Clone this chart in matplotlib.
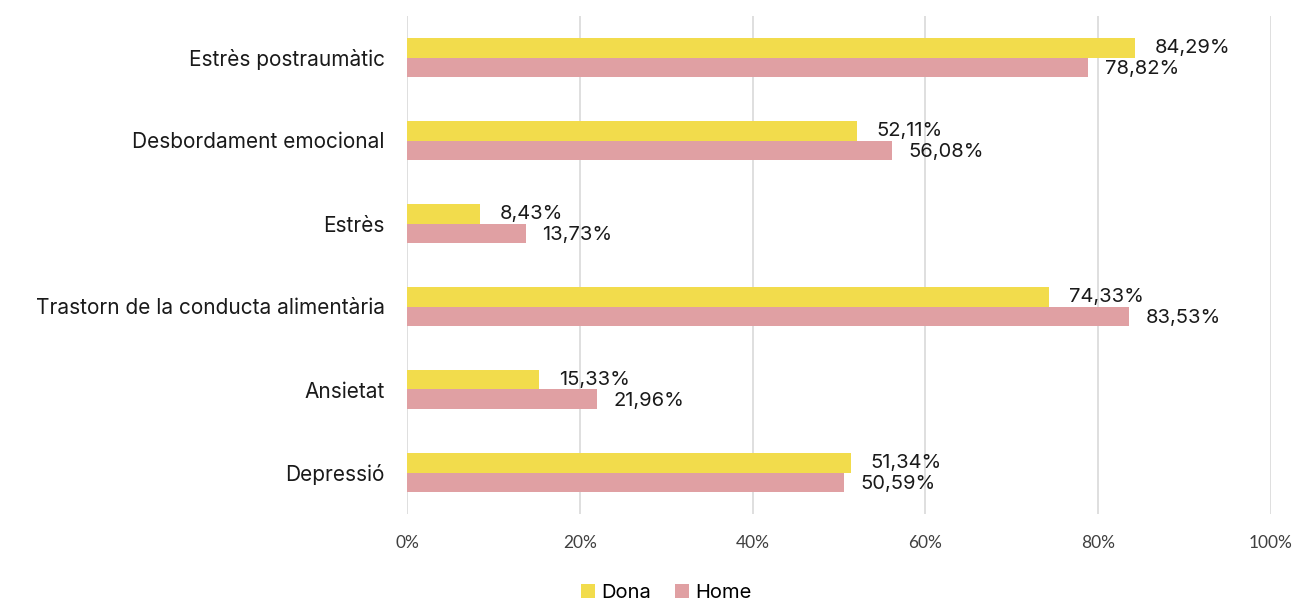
import numpy as np
import matplotlib.pyplot as plt

categories = ["Estrès postraumàtic", "Desbordament emocional", "Estrès",
              "Trastorn de la conducta alimentària", "Ansietat", "Depressió"]
dona = [84.29, 52.11, 8.43, 74.33, 15.33, 51.34]
home = [78.82, 56.08, 13.73, 83.53, 21.96, 50.59]
xticks = [0, 20, 40, 60, 80, 100]


def fmt(v):
    return f"{v:.2f}".replace(".", ",") + "%"


def plot_chart():
    plt.rcParams['font.family'] = ['Inter', 'DejaVu Sans']
    fig = plt.figure(figsize=(13.02, 6.05), dpi=100)
    ax = fig.add_axes([0.3126, 1 - 514 / 605, 0.6636, 498 / 605])

    y = np.arange(len(categories))
    h = 0.235
    ax.barh(y - h / 2, dona, height=h, color="#F2DC4C", label="Dona", zorder=3)
    ax.barh(y + h / 2, home, height=h, color="#E0A0A3", label="Home", zorder=3)

    for i in range(len(categories)):
        ax.annotate(fmt(dona[i]), (dona[i], y[i] - h / 2), xytext=(14, 0),
                    textcoords="offset points", fontsize=14.5, va="center", ha="left",
                    color="#1a1a1a")
        ax.annotate(fmt(home[i]), (home[i], y[i] + h / 2), xytext=(12, -1.5),
                    textcoords="offset points", fontsize=14.5, va="center", ha="left",
                    color="#1a1a1a")

    ax.set_ylim(len(categories) - 0.5, -0.5)
    ax.set_xlim(0, 100)
    ax.set_xticks(xticks)
    ax.set_xticklabels([f"{t}%" for t in xticks], fontsize=12.5, color="#404040",
                       family=['Lato', 'DejaVu Sans'])
    ax.set_yticks(y)
    ax.set_yticklabels(categories, fontsize=15, color="#1a1a1a")
    ax.tick_params(axis="both", length=0)
    ax.tick_params(axis="x", pad=15)
    ax.tick_params(axis="y", pad=16)
    ax.grid(axis="x", color="#D9D9D9", linewidth=1.2, zorder=0)
    for s in ax.spines.values():
        s.set_visible(False)

    fig.legend(loc="center", bbox_to_anchor=(0.512, 1 - 593 / 605), ncol=2,
               frameon=False, fontsize=14.5, handlelength=0.7, handleheight=0.7,
               handletextpad=0.3, columnspacing=1.2)

    fig.savefig("out.png", dpi=100)
    plt.close(fig)


def main():
    plot_chart()


if __name__ == "__main__":
    main()
